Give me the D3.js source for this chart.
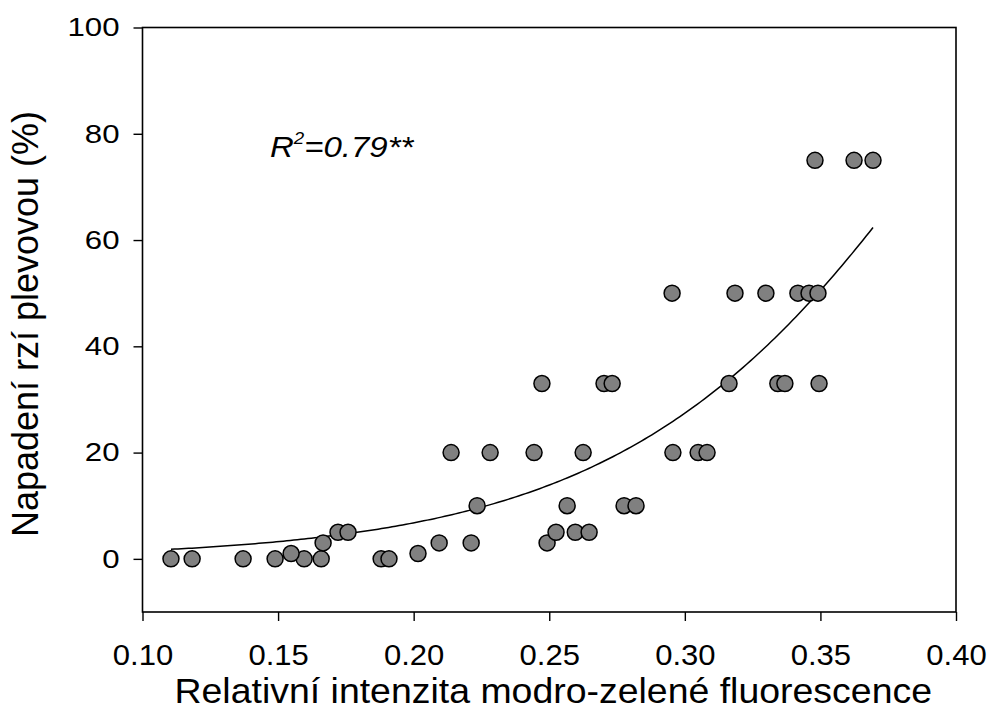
<!DOCTYPE html>
<html>
<head>
<meta charset="utf-8">
<script src="https://cdn.jsdelivr.net/npm/d3@7"></script>
<style>
  html, body { margin: 0; padding: 0; background: #fff; }
  svg { display: block; }
  text { font-family: "Liberation Sans", Arial, sans-serif; fill: #000; }
</style>
</head>
<body>
<svg id="chart" width="989" height="711"></svg>
<script>
// Observations: relative blue-green fluorescence vs. rust infection (%)
const xValues = [
  0.1105, 0.1183, 0.1371, 0.1489, 0.1596, 0.1659, 0.1880, 0.1909,
  0.1548, 0.2016,
  0.1666, 0.2094, 0.2212, 0.2492,
  0.1721, 0.1758, 0.2525, 0.2596, 0.2647,
  0.2234, 0.2566, 0.2776, 0.2820,
  0.2138, 0.2282, 0.2444, 0.2625, 0.2956, 0.3049, 0.3082,
  0.2473, 0.2702, 0.2732, 0.3163, 0.3343, 0.3369, 0.3495,
  0.2953, 0.3185, 0.3299, 0.3417, 0.3458, 0.3491,
  0.3480, 0.3624, 0.3694
];
const yValues = [
  0, 0, 0, 0, 0, 0, 0, 0,
  1, 1,
  3, 3, 3, 3,
  5, 5, 5, 5, 5,
  10, 10, 10, 10,
  20, 20, 20, 20, 20, 20, 20,
  33, 33, 33, 33, 33, 33, 33,
  50, 50, 50, 50, 50, 50,
  75, 75, 75
];
const xTicks = [0.10, 0.15, 0.20, 0.25, 0.30, 0.35, 0.40];
const yTicks = [0, 20, 40, 60, 80, 100];
// Fitted regression curve (3-parameter sigmoid): y = a / (1 + exp(-(x - x0) / b))
const fitA = 200, fitX0 = 0.4218, fitB = 0.0662;
const fitRange = [0.1105, 0.3694];
const xLabel = "Relativní intenzita modro-zelené fluorescence";
const yLabel = "Napadení rzí plevovou (%)";

const svg = d3.select("#chart");
const mLeft = 142.5, mRight = 956, mTop = 27.5, mBottom = 612;

const x = d3.scaleLinear().domain([0.10, 0.40]).range([mLeft, mRight]);
const y = d3.scaleLinear().domain([-10, 100]).range([mBottom, mTop]);

// frame
svg.append("rect")
  .attr("x", mLeft).attr("y", mTop)
  .attr("width", mRight - mLeft).attr("height", mBottom - mTop)
  .attr("fill", "none").attr("stroke", "#000").attr("stroke-width", 1.6);

// x axis
const xAxis = svg.append("g")
  .attr("transform", `translate(0,${mBottom})`)
  .call(d3.axisBottom(x).tickValues(xTicks).tickSize(9).tickPadding(23)
        .tickFormat(d3.format(".2f")));
xAxis.select(".domain").remove();
xAxis.selectAll("line").attr("stroke", "#000").attr("stroke-width", 1.4);
xAxis.selectAll("text")
  .attr("font-size", 29).attr("font-family", "Liberation Sans, Arial, sans-serif")
  .attr("transform", function () {
    const yy = +d3.select(this).attr("y");
    d3.select(this).attr("y", 0);
    return `translate(0,${yy}) scale(1.07,1)`;
  });

// y axis
const yAxis = svg.append("g")
  .attr("transform", `translate(${mLeft},0)`)
  .call(d3.axisLeft(y).tickValues(yTicks).tickSize(9).tickPadding(14));
yAxis.select(".domain").remove();
yAxis.selectAll("line").attr("stroke", "#000").attr("stroke-width", 1.4);
yAxis.selectAll("text")
  .attr("font-size", 26).attr("font-family", "Liberation Sans, Arial, sans-serif")
  .attr("transform", function () {
    const xx = +d3.select(this).attr("x");
    d3.select(this).attr("x", 0);
    return `translate(${xx},0) scale(1.2,1)`;
  });

// fitted curve
const curveX = d3.range(0, 201).map(i => fitRange[0] + (fitRange[1] - fitRange[0]) * i / 200);
const line = d3.line()
  .x(d => x(d))
  .y(d => y(fitA / (1 + Math.exp(-(d - fitX0) / fitB))));
svg.append("path")
  .datum(curveX)
  .attr("d", line)
  .attr("fill", "none").attr("stroke", "#000").attr("stroke-width", 1.5);

// points
svg.append("g").selectAll("circle")
  .data(xValues.map((v, i) => [v, yValues[i]]))
  .join("circle")
  .attr("cx", d => x(d[0]))
  .attr("cy", d => y(d[1]))
  .attr("r", 8)
  .attr("fill", "#808080")
  .attr("stroke", "#000")
  .attr("stroke-width", 1.5);

// R² annotation
const ann = svg.append("text")
  .attr("transform", "translate(270,157) scale(1.1,1)")
  .attr("font-size", 30).attr("font-style", "italic");
ann.append("tspan").text("R");
ann.append("tspan").text("2").attr("font-size", 17).attr("dy", -13);
ann.append("tspan").text("=0.79**").attr("dy", 13);

// axis titles
svg.append("text")
  .attr("transform", `translate(${(mLeft + mRight) / 2 + 4},703) scale(1.07,1)`)
  .attr("text-anchor", "middle").attr("font-size", 35)
  .text(xLabel);
svg.append("text")
  .attr("transform", `translate(38,324) rotate(-90)`)
  .attr("text-anchor", "middle").attr("font-size", 36)
  .text(yLabel);
</script>
</body>
</html>
